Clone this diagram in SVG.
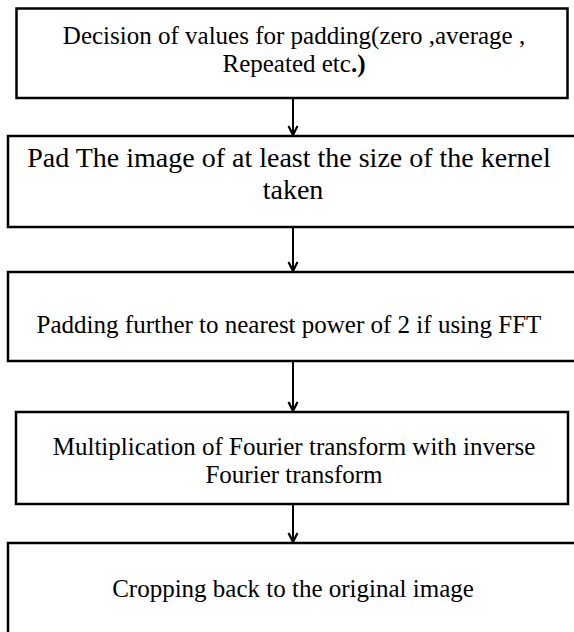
<svg xmlns="http://www.w3.org/2000/svg" width="574" height="632" viewBox="0 0 574 632">
<style>
.box{fill:#fff;stroke:#000;stroke-width:2.5}
.t{font-family:"Liberation Serif","Times New Roman",serif;font-size:25px;fill:#000;text-anchor:middle}
.t2{font-size:28px}
.c{stroke:#000;stroke-width:2;fill:none}
</style>
<defs>
<marker id="ah" markerUnits="userSpaceOnUse" markerWidth="14" markerHeight="14" refX="12" refY="7" orient="auto" viewBox="0 0 14 14">
<polyline points="3,2.5 12,7 3,11.5" fill="none" stroke="#000" stroke-width="2.2"/>
</marker>
</defs>
<g id="n1">
<rect class="box" x="16.5" y="8.5" width="551" height="89.5"/>
<text class="t" x="294" y="44">Decision of values for padding(zero ,average ,</text>
<text class="t" x="294" y="72">Repeated etc<tspan font-weight="bold">.)</tspan></text>
</g>
<g id="n2">
<rect class="box" x="8" y="136" width="580" height="91"/>
<text class="t t2" x="289" y="167">Pad The image of at least the size of the kernel</text>
<text class="t t2" x="293" y="199">taken</text>
</g>
<g id="n3">
<rect class="box" x="8" y="272" width="580" height="89"/>
<text class="t" x="289" y="333">Padding further to nearest power of 2 if using FFT</text>
</g>
<g id="n4">
<rect class="box" x="16" y="412" width="552" height="92"/>
<text class="t" x="294" y="455">Multiplication of Fourier transform with inverse</text>
<text class="t" x="294" y="483">Fourier transform</text>
</g>
<g id="n5">
<rect class="box" x="8" y="543" width="580" height="100"/>
<text class="t" x="293" y="597">Cropping back to the original image</text>
</g>
<g id="connectors">
<line class="c" x1="293" y1="99" x2="293" y2="135" marker-end="url(#ah)"/>
<line class="c" x1="293" y1="228" x2="293" y2="271" marker-end="url(#ah)"/>
<line class="c" x1="293" y1="362" x2="293" y2="411" marker-end="url(#ah)"/>
<line class="c" x1="293" y1="505" x2="293" y2="542" marker-end="url(#ah)"/>
</g>
</svg>
